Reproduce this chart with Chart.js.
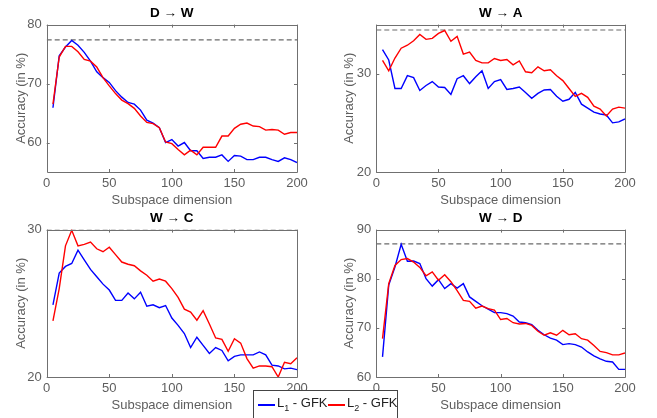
<!DOCTYPE html>
<html>
<head>
<meta charset="utf-8">
<script src="https://cdn.jsdelivr.net/npm/chart.js@4.4.1/dist/chart.umd.min.js"></script>
<style>
    html, body { margin: 0; padding: 0; background: #fff; overflow: hidden; }
    body { width: 657px; height: 418px; position: relative; font-family: "Liberation Sans", Arial, sans-serif; }
    .panel { position: absolute; width: 329px; height: 210px; }
    .legend {
        position: absolute; left: 253px; top: 390px; width: 143px; height: 40px;
        border: 1px solid #444; background: #fff; font-size: 13px; color: #222;
    }
    .legend .swatch { position: absolute; top: 13px; width: 17px; height: 2px; }
    .legend .text { position: absolute; top: 4px; white-space: nowrap; line-height: 15px; }
    .legend sub { font-size: 9px; line-height: 0; }
</style>
</head>
<body>
<div class="panel" style="left:0;top:0"><canvas id="c-dw"></canvas></div>
<div class="panel" style="left:328px;top:0"><canvas id="c-wa"></canvas></div>
<div class="panel" style="left:0;top:205px"><canvas id="c-wc"></canvas></div>
<div class="panel" style="left:328px;top:205px"><canvas id="c-wd"></canvas></div>
<div class="legend" id="legend"></div>

<script>
// размерность подпространства: 5, 10, ..., 200
const dims = [5, 10, 15, 20, 25, 30, 35, 40, 45, 50, 55, 60, 65, 70, 75, 80, 85, 90, 95, 100,
    105, 110, 115, 120, 125, 130, 135, 140, 145, 150, 155, 160, 165, 170, 175, 180, 185, 190, 195, 200];
const xTicks = [0, 50, 100, 150, 200];

// D -> W
const dwL1 = [65.9, 74.7, 76.2, 77.3, 76.5, 75.3, 73.8, 72.0, 71.0, 70.2, 68.8, 67.7, 66.8, 66.5, 65.5, 63.8, 63.3, 62.5, 60.0, 60.5,
    59.4, 60.0, 58.6, 58.6, 57.3, 57.5, 57.5, 57.9, 56.8, 57.8, 57.7, 57.1, 57.1, 57.5, 57.5, 57.1, 56.8, 57.4, 57.1, 56.6];
const dwL2 = [66.5, 74.5, 76.3, 76.3, 75.4, 74.1, 73.8, 72.8, 71.0, 69.6, 68.3, 67.2, 66.6, 65.8, 64.5, 63.4, 63.2, 62.5, 60.1, 59.8,
    58.8, 57.9, 58.7, 57.9, 59.2, 59.2, 59.2, 61.1, 61.1, 62.4, 63.1, 63.3, 62.8, 62.7, 62.1, 62.2, 62.1, 61.4, 61.7, 61.7];
const dwBase = 77.4;
const dwTicks = [60, 70, 80];

// W -> A
const waL1 = [32.45, 31.4, 28.5, 28.5, 29.8, 29.6, 28.3, 28.8, 29.2, 28.65, 28.6, 27.9, 29.5, 29.8, 29.0, 29.7, 30.3, 28.5, 29.2, 29.4,
    28.4, 28.5, 28.65, 28.1, 27.5, 28.0, 28.35, 28.4, 27.7, 27.2, 27.4, 28.1, 26.9, 26.5, 26.1, 25.9, 25.8, 25.0, 25.1, 25.4];
const waL2 = [31.35, 30.3, 31.6, 32.6, 32.9, 33.35, 34.0, 33.5, 33.6, 34.1, 34.4, 33.3, 33.8, 32.0, 32.2, 31.35, 31.1, 31.1, 31.55, 31.35,
    31.45, 30.9, 31.3, 30.2, 30.1, 30.7, 30.3, 30.4, 29.8, 29.3, 28.5, 27.7, 28.0, 27.6, 26.7, 26.4, 25.7, 26.4, 26.6, 26.5];
const waBase = 34.45;
const waTicks = [20, 30];

// W -> C
const wcL1 = [24.9, 27.05, 27.5, 27.7, 28.6, 27.95, 27.3, 26.8, 26.3, 25.9, 25.2, 25.2, 25.7, 25.3, 25.75, 24.8, 24.9, 24.7, 24.85, 24.0,
    23.5, 22.95, 22.0, 22.7, 22.15, 21.6, 22.0, 21.8, 21.1, 21.4, 21.5, 21.5, 21.5, 21.7, 21.5, 20.8, 20.75, 20.55, 20.6, 20.5];
const wcL2 = [23.8, 26.0, 28.9, 29.95, 28.9, 29.0, 29.15, 28.7, 28.5, 28.8, 28.3, 27.8, 27.65, 27.55, 27.2, 26.9, 26.5, 26.65, 26.5, 26.0,
    25.4, 24.6, 24.4, 23.85, 24.5, 23.6, 22.65, 22.55, 21.75, 22.6, 22.3, 21.25, 20.6, 20.75, 20.75, 20.7, 20.0, 21.0, 20.9, 21.3];
const wcBase = 29.97;
const wcTicks = [20, 30];

// W -> D
const wdL1 = [64.1, 78.7, 82.4, 87.0, 83.55, 83.6, 83.1, 80.0, 78.5, 79.8, 78.0, 79.0, 78.1, 79.0, 76.3, 75.4, 74.5, 73.8, 73.1, 73.1,
    72.9, 72.4, 71.2, 71.05, 70.65, 69.5, 68.6, 67.9, 67.5, 66.6, 66.8, 66.6, 66.1, 65.1, 64.3, 63.7, 63.2, 63.05, 61.55, 61.55];
const wdL2 = [67.8, 79.0, 82.7, 83.9, 84.1, 83.4, 82.3, 80.6, 81.4, 79.7, 80.8, 79.4, 77.6, 75.6, 75.4, 74.0, 74.45, 73.9, 73.6, 71.7,
    71.9, 71.05, 70.8, 70.9, 70.5, 69.3, 68.5, 69.0, 68.5, 69.5, 68.6, 68.8, 67.8, 67.5, 66.4, 65.2, 64.95, 64.5, 64.5, 64.9];
const wdBase = 87.1;
const wdTicks = [60, 70, 80, 90];

const seriesNames = ["L1 - GFK", "L2 - GFK"];
const seriesColors = ["#0000ff", "#ff0000"];

const FONT = "'Liberation Sans', Arial, sans-serif";
const AXIS_COLOR = "#5e5e5e";

// рамка и внутренние засечки как в MATLAB
const boxPlugin = {
    id: "box",
    afterDatasetsDraw(chart) {
        const { ctx, chartArea: a, scales } = chart;
        const len = 3;
        ctx.save();
        ctx.strokeStyle = "#707070";
        ctx.lineWidth = 1;
        ctx.beginPath();
        ctx.rect(Math.round(a.left) + 0.5, Math.round(a.top) + 0.5, Math.round(a.right - a.left), Math.round(a.bottom - a.top));
        scales.x.ticks.forEach((t) => {
            const px = Math.round(scales.x.getPixelForValue(t.value)) + 0.5;
            ctx.moveTo(px, a.bottom); ctx.lineTo(px, a.bottom - len);
            ctx.moveTo(px, a.top); ctx.lineTo(px, a.top + len);
        });
        scales.y.ticks.forEach((t) => {
            const py = Math.round(scales.y.getPixelForValue(t.value)) + 0.5;
            ctx.moveTo(a.left, py); ctx.lineTo(a.left + len, py);
            ctx.moveTo(a.right, py); ctx.lineTo(a.right - len, py);
        });
        ctx.stroke();
        ctx.restore();
    },
};

function makeChart(id, title, l1, l2, base, yMin, yMax, yTicks, yAxisWidth) {
    new Chart(document.getElementById(id), {
        type: "line",
        data: {
            labels: dims,
            datasets: [
                {
                    label: seriesNames[0],
                    data: dims.map((d, i) => ({ x: d, y: l1[i] })),
                    borderColor: seriesColors[0],
                    borderWidth: 1.4,
                    pointRadius: 0,
                    tension: 0,
                    order: 1,
                },
                {
                    label: seriesNames[1],
                    data: dims.map((d, i) => ({ x: d, y: l2[i] })),
                    borderColor: seriesColors[1],
                    borderWidth: 1.4,
                    pointRadius: 0,
                    tension: 0,
                    order: 0,
                },
                {
                    label: "baseline",
                    data: [{ x: xTicks[0], y: base }, { x: xTicks[xTicks.length - 1], y: base }],
                    borderColor: "#6a6a6a",
                    borderWidth: 1.2,
                    borderDash: [5, 3],
                    pointRadius: 0,
                    order: 2,
                },
            ],
        },
        options: {
            responsive: false,
            animation: false,
            devicePixelRatio: 1,
            layout: { padding: { left: 0, right: 32, top: 0, bottom: 0 } },
            plugins: {
                legend: { display: false },
                tooltip: { enabled: false },
                title: {
                    display: true,
                    text: title,
                    fullSize: false,
                    color: "#000",
                    font: { family: FONT, size: 13.5, weight: "bold" },
                    padding: { top: 5, bottom: 3.4 },
                },
            },
            scales: {
                x: {
                    type: "linear",
                    min: xTicks[0],
                    max: xTicks[xTicks.length - 1],
                    afterBuildTicks: (s) => { s.ticks = xTicks.map((v) => ({ value: v })); },
                    afterFit: (s) => { s.height = 38; },
                    grid: { display: false, drawTicks: false },
                    border: { display: false },
                    ticks: { color: AXIS_COLOR, font: { family: FONT, size: 13 }, padding: 3.5, maxRotation: 0 },
                    title: {
                        display: true,
                        text: "Subspace dimension",
                        color: AXIS_COLOR,
                        font: { family: FONT, size: 13 },
                        padding: { top: 0, bottom: 2.2 },
                    },
                },
                y: {
                    min: yMin,
                    max: yMax,
                    afterBuildTicks: (s) => { s.ticks = yTicks.map((v) => ({ value: v })); },
                    afterFit: (s) => { s.width = yAxisWidth; },
                    grid: { display: false, drawTicks: false },
                    border: { display: false },
                    ticks: { color: AXIS_COLOR, font: { family: FONT, size: 13 }, padding: 5 },
                    title: {
                        display: true,
                        text: "Accuracy (in %)",
                        color: AXIS_COLOR,
                        font: { family: FONT, size: 13 },
                        padding: { top: 14, bottom: 0 },
                    },
                },
            },
        },
        plugins: [boxPlugin],
    });
}

function sizeCanvas(id) {
    const c = document.getElementById(id);
    c.width = 329;
    c.height = 210;
    c.style.width = "329px";
    c.style.height = "210px";
}
["c-dw", "c-wa", "c-wc", "c-wd"].forEach(sizeCanvas);

makeChart("c-dw", "D \u2192 W", dwL1, dwL2, dwBase, 55, 80, dwTicks, 46.7);
makeChart("c-wa", "W \u2192 A", waL1, waL2, waBase, 20, 35, waTicks, 48.3);
makeChart("c-wc", "W \u2192 C", wcL1, wcL2, wcBase, 20, 30, wcTicks, 46.7);
makeChart("c-wd", "W \u2192 D", wdL1, wdL2, wdBase, 60, 90, wdTicks, 48.3);

// легенда (HTML, чтобы были нижние индексы)
const legend = document.getElementById("legend");
const swatchX = [4, 74];
seriesNames.forEach((name, i) => {
    const sw = document.createElement("span");
    sw.className = "swatch";
    sw.style.left = swatchX[i] + "px";
    sw.style.background = seriesColors[i];
    legend.appendChild(sw);

    const txt = document.createElement("span");
    txt.className = "text";
    txt.style.left = swatchX[i] + 19 + "px";
    txt.innerHTML = `${name.slice(0, 1)}<sub>${name.slice(1, 2)}</sub>${name.slice(2)}`;
    legend.appendChild(txt);
});
</script>
</body>
</html>
